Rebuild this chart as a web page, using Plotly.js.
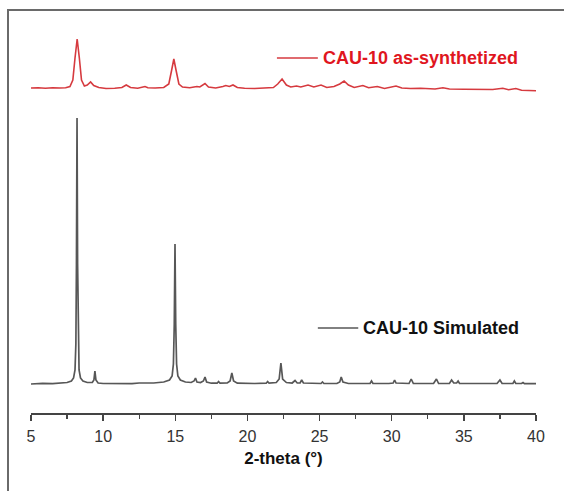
<!DOCTYPE html>
<html>
<head>
<meta charset="utf-8">
<script src="https://cdn.plot.ly/plotly-3.0.1.min.js"></script>
<style>
  html, body { margin: 0; padding: 0; background: #fff; overflow: hidden; }
  #wrap { position: relative; width: 564px; height: 491px; }
  #chart { position: absolute; left: 0; top: 0; width: 564px; height: 491px; }
  #frame { position: absolute; left: 7px; top: 9px; width: 600px; height: 600px;
           border-left: 2px solid #6a6a6a; border-top: 2px solid #6a6a6a;
           pointer-events: none; }
</style>
</head>
<body>
<div id="wrap">
  <div id="chart"></div>
  <div id="frame"></div>
</div>
<script>
// Simulated CAU-10 powder pattern (2-theta in degrees, intensity in a.u.)
const simTheta = [5.0, 5.8, 6.5, 7.0, 7.5, 7.8, 7.95, 8.05, 8.11, 8.15, 8.19, 8.23, 8.27, 8.33, 8.43, 8.6, 8.9,
  9.25, 9.36, 9.43, 9.5, 9.65, 10.0, 11.0, 11.6, 12.0, 12.5, 12.9, 13.5, 14.2, 14.6, 14.78, 14.87, 14.93,
  14.98, 15.03, 15.09, 15.18, 15.35, 15.7, 16.1, 16.3, 16.4, 16.5, 16.75, 16.95, 17.06, 17.17, 17.5, 17.9,
  18.0, 18.1, 18.6, 18.8, 18.92, 19.04, 19.3, 20.5, 21.3, 21.4, 21.5, 22.0, 22.2, 22.32, 22.44, 22.7, 23.1,
  23.3, 23.45, 23.65, 23.76, 23.88, 24.5, 25.1, 25.2, 25.3, 26.2, 26.4, 26.5, 26.62, 27.0, 28.5, 28.6, 28.7,
  29.8, 30.1, 30.2, 30.3, 31.2, 31.35, 31.5, 32.9, 33.1, 33.25, 34.0, 34.15, 34.3, 34.5, 34.6, 34.7, 35.5,
  37.3, 37.5, 37.65, 38.4, 38.5, 38.6, 39.0, 39.1, 39.2, 40.0];
const simInt = [0, 0.6, 0.3, 1.0, 1.5, 3, 6, 14, 40, 120, 266, 120, 40, 14, 6, 3, 1.5,
  1.5, 4, 13, 4, 1, 0.5, 0.3, 0.8, 0.4, 1, 1, 1, 2, 4, 8, 20, 60,
  140, 60, 20, 8, 4, 2, 1.5, 3, 6, 2, 1.5, 3, 7, 2, 0.8, 0.8,
  2.5, 0.8, 1, 3, 11, 3, 0.8, 0.5, 0.8, 2.5, 0.8, 1.5, 5, 21, 5, 1.5, 1,
  3.5, 1, 1, 4, 1, 0.5, 0.5, 2, 0.5, 0.5, 2, 7, 2, 0.5, 0.5, 3, 0.5,
  0.5, 1, 4, 1, 0.5, 5, 0.5, 0.5, 5, 0.5, 0.5, 4, 1, 1, 3, 0.5, 0.5,
  0.5, 4, 0.5, 0.5, 3, 0.5, 0.5, 1.5, 0.3, 0.3];

// Measured as-synthesized CAU-10 pattern
const expTheta = [5.0, 5.5, 6.0, 6.5, 7.0, 7.4, 7.7, 7.9, 8.05, 8.2, 8.35, 8.5, 8.7, 8.9, 9.13, 9.35, 9.7,
  10.2, 10.8, 11.3, 11.6, 11.9, 12.4, 12.9, 13.1, 13.6, 14.2, 14.55, 14.75, 14.9, 15.05, 15.25, 15.5, 16.0,
  16.3, 16.5, 16.7, 17.06, 17.3, 17.8, 18.3, 18.5, 18.75, 19.0, 19.3, 19.8, 20.5, 21.3, 21.8, 22.1, 22.4,
  22.7, 23.0, 23.4, 23.7, 24.2, 24.6, 25.1, 25.5, 26.0, 26.4, 26.7, 27.0, 27.4, 28.0, 28.4, 29.0, 29.5,
  30.3, 30.7, 31.3, 32.0, 32.6, 33.0, 33.55, 34.0, 35.0, 36.0, 37.0, 37.7, 38.1, 38.6, 39.0, 39.5, 40.0];
const expInt = [0, 0.3, -0.2, 0.3, 0, 0.3, 1.5, 8, 30, 49, 30, 8, 2, 3, 6, 2.5, 0.5,
  -0.5, -0.3, 0.5, 3, 0.5, -0.3, 1.5, 0.3, 0, 0.5, 4, 18, 29, 18, 4, 1, 0.3,
  1, 1.5, 1, 4.5, 1, 0, 1.5, 2.5, 1.5, 3, 0.5, -0.3, -0.5, -0.3, 0.5, 4, 9,
  3, 1, 2, 1, 3, 1, 3, 0.5, 1.5, 4, 7, 3, 0.5, 2.5, 0.3, 1.5, -0.5,
  2, 0, -0.5, -0.3, -0.8, -1, 0.3, -1, -1.2, -1.5, -1.5, -0.3, -1.7, -0.5, -2.2, -2.5, -2.7];

// Vertical offset used to stack the measured pattern above the simulated one
const expOffset = 296;

const seriesNames = ['CAU-10 Simulated', 'CAU-10 as-synthetized'];
const xTicks = [5, 10, 15, 20, 25, 30, 35, 40];

const simColor = '#575757';
const expColor = '#d63a3f';
const expText = '#e0161e';

const traces = [
  { x: simTheta, y: simInt, type: 'scatter', mode: 'lines', name: seriesNames[0],
    line: { color: simColor, width: 1.7 }, hoverinfo: 'skip' },
  { x: expTheta, y: expInt.map(v => v + expOffset), type: 'scatter', mode: 'lines', name: seriesNames[1],
    line: { color: expColor, width: 1.6 }, hoverinfo: 'skip' }
];

const font = 'Liberation Sans, Arial, sans-serif';

const layout = {
  width: 564, height: 491,
  margin: { l: 31, r: 28, t: 30, b: 78 },
  paper_bgcolor: '#ffffff', plot_bgcolor: '#ffffff',
  showlegend: false,
  font: { family: font, color: '#222' },
  xaxis: {
    range: [5, 40], tickvals: xTicks, ticktext: xTicks.map(String),
    showgrid: false, zeroline: false,
    showline: true, linecolor: '#444', linewidth: 1.5,
    ticks: 'outside', ticklen: 6, tickwidth: 1.5, tickcolor: '#444',
    ticklabelstandoff: 2,
    tickfont: { family: font, size: 16, color: '#333' },
    minor: { dtick: 2.5, tick0: 5, ticks: 'outside', ticklen: 4, tickwidth: 1.3, tickcolor: '#444', showgrid: false },
    title: { text: '<b>2-theta (°)</b>', font: { family: font, size: 17, color: '#111' }, standoff: 8 }
  },
  yaxis: { visible: false, range: [-29, 354], showgrid: false, zeroline: false },
  shapes: [
    { type: 'line', xref: 'paper', yref: 'paper', x0: 0.487, x1: 0.568, y0: 0.927, y1: 0.927,
      line: { color: expColor, width: 1.6 } },
    { type: 'line', xref: 'paper', yref: 'paper', x0: 0.568, x1: 0.648, y0: 0.222, y1: 0.222,
      line: { color: simColor, width: 1.6 } }
  ],
  annotations: [
    { xref: 'paper', yref: 'paper', x: 0.574, y: 0.927, xanchor: 'left', yanchor: 'middle',
      text: '<b>' + seriesNames[1] + '</b>', showarrow: false,
      font: { family: font, size: 18, color: expText } },
    { xref: 'paper', yref: 'paper', x: 0.654, y: 0.222, xanchor: 'left', yanchor: 'middle',
      text: '<b>' + seriesNames[0] + '</b>', showarrow: false,
      font: { family: font, size: 18, color: '#111' } }
  ]
};

Plotly.newPlot('chart', traces, layout, { displayModeBar: false, staticPlot: true });
</script>
</body>
</html>
